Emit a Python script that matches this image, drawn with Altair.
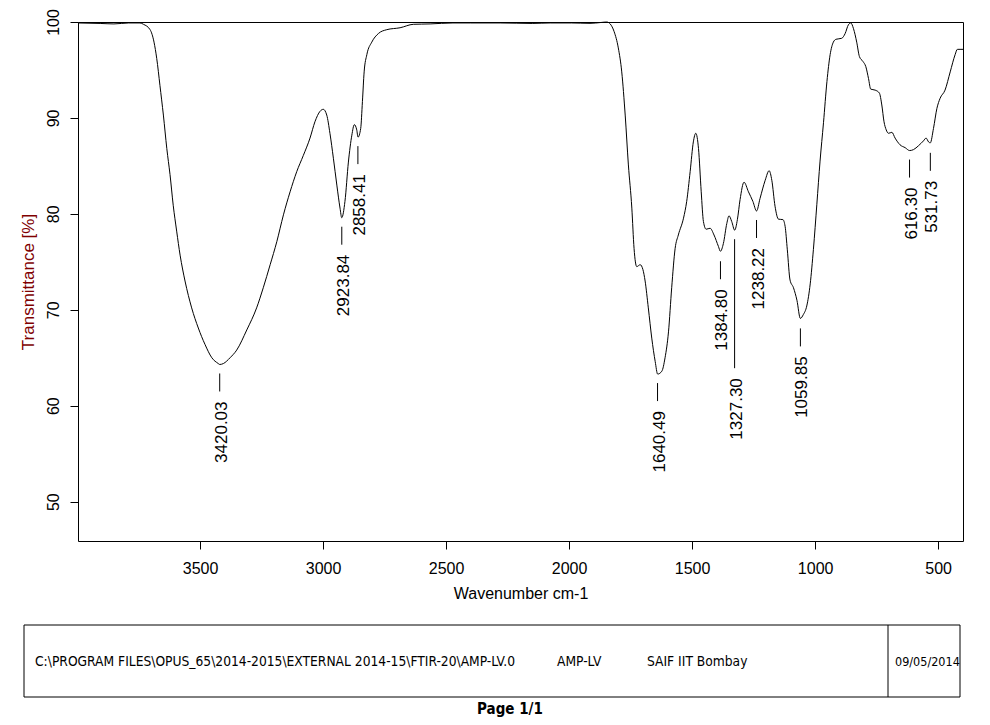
import altair as alt
import pandas as pd

# ---------------- data ----------------
wavenumber = [3996, 3906, 3850, 3790, 3744, 3730, 3703, 3687, 3676, 3663, 3649, 3635, 3622, 3609,
              3595, 3581, 3561, 3534, 3507, 3480, 3452, 3426, 3420, 3405, 3378, 3351, 3310, 3270,
              3243, 3215, 3188, 3161, 3134, 3107, 3080, 3053, 3033, 3012, 2999, 2985, 2972, 2958,
              2944, 2931, 2924, 2911, 2897, 2883, 2873, 2863, 2858, 2847, 2840, 2833, 2822, 2802,
              2775, 2741, 2687, 2633, 2565, 2472, 2400, 2280, 2150, 2077, 1990, 1915, 1870, 1847,
              1833, 1817, 1800, 1786, 1772, 1759, 1745, 1736, 1725, 1711, 1700, 1691, 1678, 1664,
              1650, 1640, 1623, 1610, 1596, 1583, 1569, 1556, 1535, 1522, 1508, 1495, 1485, 1474,
              1463, 1454, 1443, 1427, 1411, 1393, 1385, 1373, 1359, 1350, 1339, 1327, 1316, 1305,
              1289, 1271, 1253, 1238, 1224, 1203, 1187, 1176, 1163, 1149, 1131, 1122, 1113, 1102,
              1088, 1074, 1060, 1048, 1034, 1020, 1007, 993, 980, 966, 952, 939, 926, 915, 892,
              878, 865, 855, 844, 831, 820, 806, 794, 783, 774, 756, 739, 729, 720, 711, 702, 688,
              675, 655, 634, 616, 600, 580, 560, 549, 539, 532, 519, 505, 492, 472, 451, 431, 422,
              411, 399]
transmittance = [99.9, 99.85, 99.8, 99.9, 99.9, 99.76, 99.2, 97.9, 96.2, 93.4, 90.3, 86.8, 84.1, 80.9,
                 78.2, 75.7, 73.0, 70.2, 68.1, 66.4, 65.0, 64.4, 64.3, 64.4, 65.0, 65.8, 67.9, 70.2,
                 72.3, 74.7, 77.1, 79.9, 82.3, 84.4, 86.1, 87.9, 89.6, 90.7, 90.9, 90.3, 88.4, 85.8,
                 83.0, 80.6, 79.6, 81.3, 85.4, 88.2, 89.3, 88.75, 88.0, 88.9, 91.7, 94.8, 96.6, 97.9,
                 98.8, 99.2, 99.4, 99.76, 99.8, 99.9, 99.9, 99.9, 99.85, 99.9, 99.9, 99.86, 99.95, 100.0,
                 99.8, 99.0, 97.3, 94.8, 90.3, 85.1, 80.6, 76.4, 74.5, 74.7, 74.2, 73.0, 70.2, 67.05,
                 64.6, 63.3, 63.6, 65.0, 67.7, 72.3, 76.4, 77.8, 79.55, 81.3, 84.4, 87.5, 88.4, 86.8,
                 82.3, 79.2, 78.4, 78.5, 77.8, 76.6, 76.1, 76.9, 79.0, 79.8, 79.2, 78.3, 79.4, 81.5,
                 83.3, 82.3, 81.3, 80.3, 81.6, 83.5, 84.5, 83.5, 80.8, 79.45, 79.4, 78.7, 76.25, 73.1,
                 72.3, 71.0, 69.1, 69.5, 70.4, 72.7, 76.3, 81.0, 85.5, 89.5, 93.8, 96.6, 97.9, 98.2, 98.3,
                 98.8, 99.7, 99.9, 99.3, 97.9, 96.4, 95.9, 95.35, 94.1, 93.0, 92.9, 92.6, 91.35, 89.6, 88.75, 88.4, 88.5,
                 87.9, 87.2, 86.9, 86.6, 86.7, 87.1, 87.6, 87.9, 87.5, 87.4, 88.9, 91.0, 92.05, 92.9, 94.8, 96.6, 97.15,
                 97.15, 97.15]

peak_wn = [3420.03, 2923.84, 2858.41, 1640.49, 1384.80, 1327.30, 1238.22, 1059.85, 616.30, 531.73]
peak_t = [64.3, 79.6, 88.0, 63.3, 76.0, 78.3, 80.3, 69.0, 86.6, 87.3]
peak_label = ["3420.03", "2923.84", "2858.41", "1640.49", "1384.80", "1327.30",
              "1238.22", "1059.85", "616.30", "531.73"]
long_lead = ["1327.30"]

x_ticks = [3500, 3000, 2500, 2000, 1500, 1000, 500]
y_ticks = [50, 60, 70, 80, 90, 100]
x_domain = [399, 3996]
y_domain = [45.9, 100]

x_title = "Wavenumber cm-1"
y_title = "Transmittance [%]"
footer_path = "C:\\PROGRAM FILES\\OPUS_65\\2014-2015\\EXTERNAL 2014-15\\FTIR-20\\AMP-LV.0"
footer_sample = "AMP-LV"
footer_lab = "SAIF IIT Bombay"
footer_date = "09/05/2014"
page_text = "Page 1/1"

assert len(wavenumber) == len(transmittance)

FONT = "Arial, Liberation Sans, sans-serif"
NARROW = "Liberation Sans Narrow, Arial Narrow, DejaVu Sans Condensed, sans-serif"

spec = pd.DataFrame({"wn": wavenumber, "T": transmittance})
peaks = pd.DataFrame({"wn": peak_wn, "T": peak_t, "label": peak_label})
peaks["long"] = peaks["label"].isin(long_lead)
one = pd.DataFrame({"k": [0]})

xs = alt.Scale(domain=x_domain, reverse=True, nice=False, zero=False)
ys = alt.Scale(domain=y_domain, nice=False, zero=False)

x_axis = alt.Axis(values=x_ticks, title=x_title, grid=False, domain=False, tickSize=8,
                  tickColor="black", labelFont=FONT, labelFontSize=16, labelColor="black",
                  labelPadding=11, labelFlush=False, labelOverlap=False, format="d",
                  titleFont=FONT, titleFontSize=16, titleFontWeight="normal", titleColor="black",
                  titleY=57, titleBaseline="alphabetic")
y_axis = alt.Axis(values=y_ticks, title=y_title, grid=False, domain=False, tickSize=8,
                  tickColor="black", labelFont=FONT, labelFontSize=16, labelColor="black",
                  labelAngle=270, labelAlign="center", labelBaseline="alphabetic",
                  labelPadding=12, labelFlush=False, labelOverlap=False, format="d",
                  titleFont=FONT, titleFontSize=17, titleFontWeight="normal", titleColor="#800000",
                  titleAngle=270, titleX=-45, titleY=259.5, titleAlign="center",
                  titleBaseline="alphabetic")

line = alt.Chart(spec).mark_line(color="black", strokeWidth=1, interpolate="monotone").encode(
    x=alt.X("wn:Q", scale=xs, axis=x_axis),
    y=alt.Y("T:Q", scale=ys, axis=y_axis),
)

base_pk = alt.Chart(peaks)
rules_short = base_pk.transform_filter("!datum.long").mark_rule(
    color="black", strokeWidth=1, yOffset=9, y2Offset=27).encode(
    x="wn:Q", y="T:Q", y2="T")
rules_long = base_pk.transform_filter("datum.long").mark_rule(
    color="black", strokeWidth=1, yOffset=9, y2Offset=138).encode(
    x="wn:Q", y="T:Q", y2="T")
text_short = base_pk.transform_filter("!datum.long").mark_text(
    angle=270, align="right", baseline="middle", dy=2, yOffset=37,
    font=FONT, fontSize=17, color="black").encode(x="wn:Q", y="T:Q", text="label:N")
text_long = base_pk.transform_filter("datum.long").mark_text(
    angle=270, align="right", baseline="middle", dy=2, yOffset=148,
    font=FONT, fontSize=17, color="black").encode(x="wn:Q", y="T:Q", text="label:N")

# footer box (pixel positions relative to plot origin)
fbox = alt.Chart(one).mark_rect(fill="white", fillOpacity=0, stroke="black", strokeWidth=1).encode(
    x=alt.value(-54), x2=alt.value(882), y=alt.value(603), y2=alt.value(675))
fdiv = alt.Chart(one).mark_rule(color="black", strokeWidth=1).encode(
    x=alt.value(810), y=alt.value(603), y2=alt.value(675))

def ftext(txt, x, y, size=13.7, weight="normal", align="left", font=NARROW):
    return alt.Chart(one).mark_text(text=txt, align=align, baseline="middle", font=font,
                                    fontSize=size, fontWeight=weight, color="black").encode(
        x=alt.value(x), y=alt.value(y))

chart = alt.layer(
    line, rules_short, rules_long, text_short, text_long,
    fbox, fdiv,
    ftext(footer_path, -43, 640),
    ftext(footer_sample, 479, 640),
    ftext(footer_lab, 569, 640),
    ftext(footer_date, 817, 640, size=12.5),
    ftext(page_text, 432, 687, size=15, weight="bold", align="center"),
).properties(
    width=885, height=519,
    padding={"left": 70, "top": 14, "right": 19, "bottom": 176},
    autosize=alt.AutoSizeParams(type="none"),
    background="white",
).configure_view(stroke="black", strokeWidth=1)

chart.save("out.html", embed_options={"renderer": "svg", "actions": False})
